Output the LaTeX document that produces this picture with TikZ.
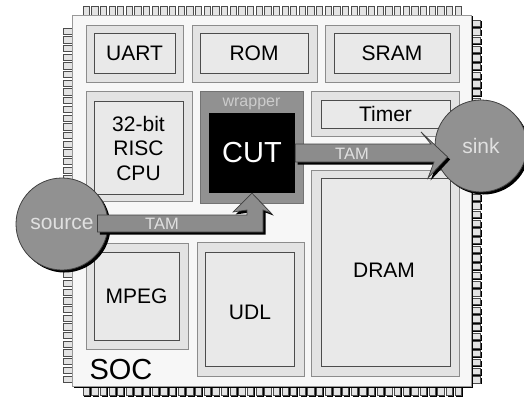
\documentclass[tikz,border=0pt]{standalone}
\usepackage{fontspec}
\setmainfont{Liberation Sans}
\usetikzlibrary{positioning,shadows}

\begin{document}
\begin{tikzpicture}[x=1pt,y=-1pt,
        every node/.style={inner sep=0pt, font=\fontsize{21}{24.5}\selectfont},
        shd/.style={drop shadow={shadow xshift=#1, shadow yshift=-#1, fill=black, opacity=1}},
        pin/.style={fill=gray!22, draw=black!70, line width=0.9pt},
        body/.style={draw=black!40, fill=gray!6, line width=0.8pt, shd=1.5pt},
        blkout/.style={draw=black!45, fill=gray!22, line width=0.8pt},
        blkin/.style={draw=black!70, fill=gray!17, line width=0.8pt, align=center},
        wrap/.style={draw=black!55, fill=black!43, line width=0.8pt},
        ball/.style={circle, draw=black!75, fill=black!43, text=white!88!black, line width=0.8pt, shd=2.5pt},
        tam/.style={fill=black!45, draw=black!75, line width=0.7pt, line join=miter, shd=2.5pt},
        tamtxt/.style={text=white!88!black, font=\fontsize{16.5}{18}\selectfont}]
        \useasboundingbox (0,0) rectangle (524,404);

        \foreach \i in {0,...,43} \filldraw[pin] ({83+8.65*\i},6) rectangle ++(6.3,9.5);
        \foreach \i in {0,...,43} \filldraw[pin, shd=1.4pt] ({83+8.65*\i},386.5) rectangle ++(6.3,9);
        \foreach \j in {0,...,40} \filldraw[pin] (63,{28+8.7*\j}) rectangle ++(9.5,6.3);
        \foreach \j in {0,...,41} \filldraw[pin, shd=1.4pt] (471,{20+8.7*\j}) rectangle ++(9.5,6.3);

        \node[body, minimum width=399, minimum height=371] (soc) at (271.5,200.5) {};
        \node[font=\fontsize{29}{30}\selectfont] (soclbl) at (121,370) {SOC};

        \node[blkout, minimum width=97, minimum height=57] (uartbox) at (134.5,53.5) {};
        \node[blkin, minimum width=81, minimum height=40] (uart) at (134.5,53) {UART};
        \node[blkout, minimum width=125, minimum height=57] (rombox) at (254.5,53.5) {};
        \node[blkin, minimum width=108, minimum height=40] (rom) at (254,53) {ROM};
        \node[blkout, minimum width=134, minimum height=57] (srambox) at (392,53.5) {};
        \node[blkin, minimum width=116, minimum height=40] (sram) at (392,53) {SRAM};
        \node[blkout, minimum width=106, minimum height=110] (cpubox) at (139,146) {};
        \node[blkin, minimum width=89, minimum height=93] (cpu) at (138.5,148) {32-bit\\RISC\\CPU};
        \node[blkout, minimum width=148, minimum height=45] (timerbox) at (385,113.5) {};
        \node[blkin, minimum width=129, minimum height=28] (timer) at (385.5,114) {Timer};
        \node[blkout, minimum width=148, minimum height=206] (drambox) at (385,273) {};
        \node[blkin, minimum width=129, minimum height=188] (dram) at (385.5,272) {};
        \node (dramlbl) at (384,270) {DRAM};
        \node[blkout, minimum width=102, minimum height=106] (mpegbox) at (137,296) {};
        \node[blkin, minimum width=85, minimum height=88] (mpeg) at (136.5,296) {MPEG};
        \node[blkout, minimum width=107, minimum height=134] (udlbox) at (250.5,309) {};
        \node[blkin, minimum width=89, minimum height=114] (udl) at (249.5,309) {};
        \node (udllbl) at (250,312) {UDL};

        \node[wrap, minimum width=103, minimum height=112] (wrap) at (251.5,147) {};
        \node[text=white!80!black, font=\fontsize{16}{17}\selectfont, below=7pt of wrap.north] (wraplbl) {wrapper};
        \node[fill=black, text=white, minimum width=86, minimum height=80, font=\fontsize{29}{30}\selectfont] (cut) at (252,153) {CUT};

        \node[ball, minimum size=92] (src) at (62,224) {source};
        \node[ball, minimum size=92] (sink) at (481,146) {sink};

        \filldraw[tam] ([xshift=-11pt,yshift=9pt]src.east) -- (247,215) -- (247,210) -- (233,212) -- (cut.south)
            -- (271,213) -- (263,210) -- (263,232) -- ([xshift=-11pt,yshift=-8pt]src.east) -- cycle;
        \filldraw[tam] ([yshift=9pt]cut.east) -- (431,144) -- (421,132) -- ([xshift=13pt,yshift=-11pt]sink.west)
            -- (428,178) -- (434,162) -- ([yshift=-9pt]cut.east) -- cycle;
        \node[tamtxt] (tamin) at (162,224) {TAM};
        \node[tamtxt] (tamout) at (352,154) {TAM};
\end{tikzpicture}
\end{document}
